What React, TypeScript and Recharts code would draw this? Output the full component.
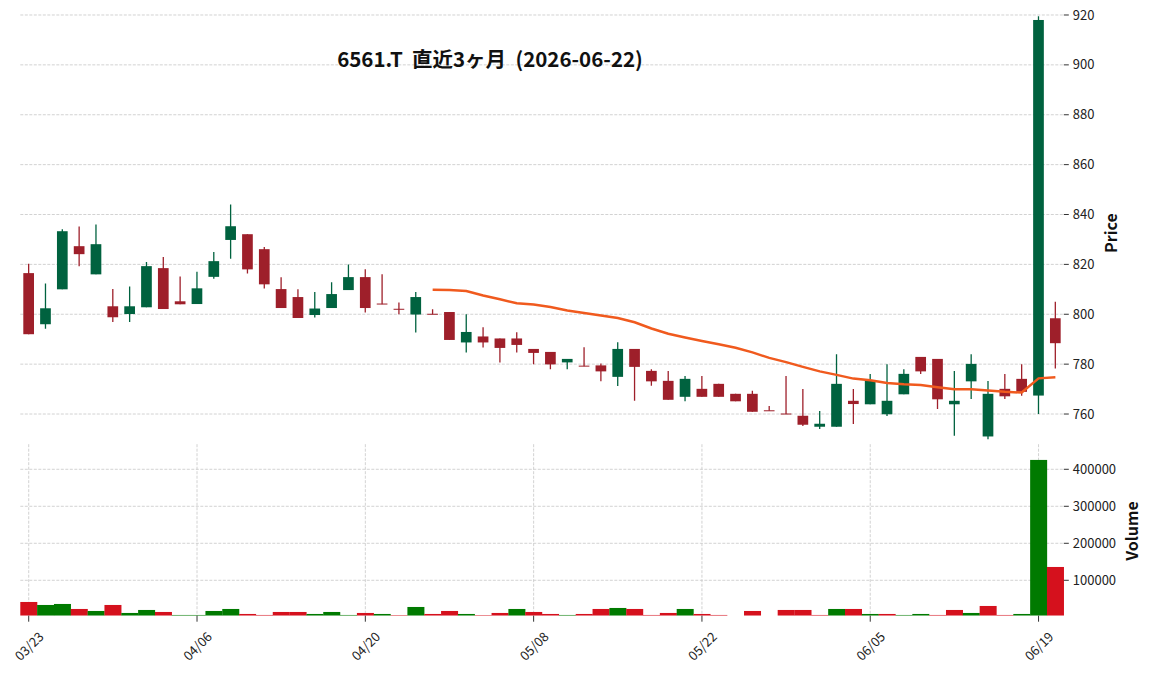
import { ComposedChart, Bar, Line, XAxis, YAxis, CartesianGrid } from 'recharts';

const DATES = [
  '03/23', '03/24', '03/25', '03/26', '03/27', '03/30', '03/31', '04/01', '04/02', '04/03',
  '04/06', '04/07', '04/08', '04/09', '04/10', '04/13', '04/14', '04/15', '04/16', '04/17',
  '04/20', '04/21', '04/22', '04/23', '04/24', '04/27', '04/28', '04/30', '05/01', '05/07',
  '05/08', '05/11', '05/12', '05/13', '05/14', '05/15', '05/18', '05/19', '05/20', '05/21',
  '05/22', '05/25', '05/26', '05/27', '05/28', '05/29', '06/01', '06/02', '06/03', '06/04',
  '06/05', '06/08', '06/09', '06/10', '06/11', '06/12', '06/15', '06/16', '06/17', '06/18',
  '06/19', '06/22',
];

const OPEN = [
  816.5, 796, 810, 827.3, 816, 803.2, 800.1, 802.8, 818.5, 805.2,
  804.1, 815, 829.8, 832.1, 826.1, 810.1, 806.9, 799.7, 802.5, 809.7,
  814.9, 804.3, 802.2, 799.9, 800.2, 800.9, 788.7, 791.1, 790.3, 790.3,
  786.1, 784.9, 780.7, 779.4, 779.5, 774.9, 786.1, 777.3, 773.3, 766.9,
  770.1, 772.1, 768.1, 768.1, 761.5, 760.2, 759.3, 754.9, 754.9, 765.3,
  763.9, 759.9, 767.9, 782.9, 782.1, 763.9, 773.1, 751, 770.1, 774.1,
  767.4, 798.4,
];
const HIGH = [
  820.3, 812.3, 834.1, 835.2, 836, 810.1, 811.1, 821, 823, 815.1,
  817, 825, 844, 832.1, 827, 814.8, 810, 808.9, 812.8, 820,
  818, 816, 804.7, 808.9, 802, 800.9, 800, 794.8, 790.3, 792.8,
  786.1, 784.9, 782.1, 786.8, 780.3, 788.8, 786.1, 778, 777.2, 775.2,
  775.2, 772.1, 768.1, 769.3, 763.2, 775.2, 770, 761.2, 784, 770,
  776, 780, 778, 782.9, 782.1, 777.2, 784, 773.2, 776, 780,
  919.5, 805,
];
const LOW = [
  792, 794.2, 810, 819.3, 816, 796.9, 796.9, 802.8, 802.1, 804,
  804.1, 814.2, 822.3, 816.3, 810.3, 802.5, 798.5, 798.7, 802.5, 809.7,
  800.7, 804, 800, 792.7, 800, 789.7, 784.7, 786.7, 780.7, 784.7,
  780, 778, 778, 779.2, 773.1, 771.2, 765.3, 771.3, 765.7, 765.1,
  766.9, 766.9, 765.1, 760.9, 761.3, 760, 755.2, 754, 754.9, 756,
  763.9, 759.2, 767.9, 776, 762, 751.3, 766, 749.9, 766, 767.3,
  760, 778.3,
];
const CLOSE = [
  792, 802.4, 833.3, 824.1, 828.1, 798.8, 803.2, 819.3, 802.1, 804,
  810.4, 821.3, 835.3, 818, 812, 802.5, 798.5, 802.3, 808.1, 814.9,
  802.5, 804, 802, 806.9, 800, 789.7, 792.9, 788.7, 786.5, 787.7,
  784.5, 779.9, 782.1, 779.2, 777.1, 786.1, 778.9, 773.1, 765.7, 774.1,
  766.9, 766.9, 765.1, 760.9, 761.3, 760, 755.7, 756.1, 772.1, 764,
  773.3, 765.3, 776.1, 777.1, 765.9, 765.3, 780.1, 768.1, 767.1, 768.9,
  918, 788.4,
];
const MA25 = [
  null, null, null, null, null, null, null, null, null, null,
  null, null, null, null, null, null, null, null, null, null,
  null, null, null, null, 809.8, 809.7, 809.3, 807.5, 806.0, 804.4,
  803.9, 802.9, 801.5, 800.5, 799.5, 798.5, 796.8, 794.3, 792.2, 790.7,
  789.3, 788.0, 786.6, 784.7, 782.5, 780.8, 778.9, 777.1, 775.7, 774.2,
  773.5, 772.4, 771.9, 771.6, 770.7, 769.9, 769.9, 769.4, 768.9, 768.6,
  774.3, 774.7,
];
const VOLUME = [
  41400, 33300, 36000, 22500, 17100, 33300, 11700, 19800, 14400, 6300,
  6300, 17100, 22500, 9000, 6300, 14400, 14400, 9000, 14400, 6300,
  11700, 9000, 6000, 27900, 9000, 17100, 9000, 6000, 11700, 22500,
  14400, 9000, 6300, 9000, 22500, 25200, 22500, 6300, 11700, 22500,
  9000, 6300, 3000, 17100, 3000, 19800, 19800, 6300, 22500, 22500,
  9000, 9000, 6300, 9000, 6300, 19800, 11700, 30600, 6300, 9000,
  425300, 136000,
];
// 1 = 上昇 (green), 0 = 下落 (red)
const VOL_UP = [
  0, 1, 1, 0, 1, 0, 1, 1, 0, 1,
  1, 1, 1, 0, 0, 0, 0, 1, 1, 1,
  0, 1, 0, 1, 0, 0, 1, 0, 0, 1,
  0, 0, 1, 0, 0, 1, 0, 0, 0, 1,
  0, 0, 0, 0, 0, 0, 0, 0, 1, 0,
  1, 0, 1, 1, 0, 0, 1, 0, 0, 1,
  1, 0,
];

const PRICE_TICKS = [760, 780, 800, 820, 840, 860, 880, 900, 920];
const VOLUME_TICKS = [100000, 200000, 300000, 400000];
const DATE_TICKS = ['03/23', '04/06', '04/20', '05/08', '05/22', '06/05', '06/19'];

const data = DATES.map((date, i) => ({
  date,
  open: OPEN[i],
  high: HIGH[i],
  low: LOW[i],
  close: CLOSE[i],
  volume: VOLUME[i],
  volUp: VOL_UP[i] === 1,
  ma: MA25[i],
}));

const FONT = '"Noto Sans CJK JP", "Noto Sans", sans-serif';
const CANDLE_UP = '#00623f';
const CANDLE_DOWN = '#9e1f2a';
const VOL_UP_COLOR = '#007a00';
const VOL_DOWN_COLOR = '#d5111d';
const GRID = '#c6c6c6';

const MARGIN_LEFT = 20.3;
const AXIS_W = 60;
const MARGIN_RIGHT = 1152 - 1063.8 - AXIS_W;

function Candle(props: any) {
  const { x, y, width, height, payload } = props;
  const { open, close, high, low } = payload;
  const color = close >= open ? CANDLE_UP : CANDLE_DOWN;
  const top = Math.min(y, y + height);
  const h = Math.abs(height);
  const span = high - low;
  const toY = (v: number) => (span > 0 ? top + ((high - v) / span) * h : top);
  const cx = x + width / 2;
  const bTop = toY(Math.max(open, close));
  const bBot = toY(Math.min(open, close));
  return (
    <g>
      <line x1={cx} x2={cx} y1={top} y2={top + h} stroke={color} strokeWidth={1.3} />
      <rect x={x} y={bTop} width={width} height={Math.max(bBot - bTop, 1)} fill={color} />
    </g>
  );
}

function VolumeBar(props: any) {
  const { x, y, width, height, payload } = props;
  if (!(height > 0)) return null;
  return <rect x={x} y={y} width={width} height={height} fill={payload.volUp ? VOL_UP_COLOR : VOL_DOWN_COLOR} />;
}

function DateTick(props: any) {
  const { x, y, payload } = props;
  const cy = y + 22;
  return (
    <text
      x={x}
      y={cy}
      transform={`rotate(-45 ${x} ${cy})`}
      textAnchor="middle"
      dominantBaseline="central"
      fontSize={13}
      fill="#222"
      fontFamily={FONT}
    >
      {payload.value}
    </text>
  );
}

export default function App() {
  return (
    <div style={{ position: 'absolute', left: 0, top: 0, width: 1152, height: 673, background: '#fff', fontFamily: FONT }}>
      <div style={{ position: 'absolute', left: 0, top: 0 }}>
        <ComposedChart
          width={1152}
          height={444}
          data={data}
          margin={{ top: 12.5, right: MARGIN_RIGHT, bottom: 0.3, left: MARGIN_LEFT }}
        >
          <CartesianGrid stroke={GRID} strokeDasharray="3 1.5" strokeWidth={0.8} syncWithTicks />
          <XAxis
            dataKey="date"
            ticks={DATE_TICKS}
            interval={0}
            height={1}
            tick={false}
            tickLine={false}
            axisLine={false}
          />
          <YAxis
            orientation="right"
            type="number"
            domain={[748.5, 921]}
            allowDataOverflow
            ticks={PRICE_TICKS}
            width={AXIS_W}
            axisLine={false}
            tickSize={5}
            tickMargin={4}
            tickLine={{ stroke: '#333', strokeWidth: 1 }}
            tick={{ fontSize: 13, fill: '#222', fontFamily: FONT }}
          />
          <Bar
            dataKey={(d: any) => [d.low, d.high]}
            barSize={10.7}
            shape={<Candle />}
            isAnimationActive={false}
          />
          <Line
            type="linear"
            dataKey="ma"
            stroke="#f05a1e"
            strokeWidth={2.5}
            dot={false}
            activeDot={false}
            isAnimationActive={false}
          />
        </ComposedChart>
      </div>
      <div style={{ position: 'absolute', left: 0, top: 443 }}>
        <ComposedChart
          width={1152}
          height={230}
          data={data}
          barCategoryGap={0}
          barGap={0}
          margin={{ top: 1.2, right: MARGIN_RIGHT, bottom: 7.3, left: MARGIN_LEFT }}
        >
          <CartesianGrid stroke={GRID} strokeDasharray="3 1.5" strokeWidth={0.8} syncWithTicks />
          <XAxis
            dataKey="date"
            ticks={DATE_TICKS}
            interval={0}
            height={50}
            axisLine={false}
            tickSize={6}
            tickMargin={2}
            tickLine={{ stroke: '#333', strokeWidth: 1 }}
            tick={<DateTick />}
          />
          <YAxis
            orientation="right"
            type="number"
            domain={[4300, 467800]}
            allowDataOverflow
            ticks={VOLUME_TICKS}
            width={AXIS_W}
            axisLine={false}
            tickSize={5}
            tickMargin={4}
            tickLine={{ stroke: '#333', strokeWidth: 1 }}
            tick={{ fontSize: 13, fill: '#222', fontFamily: FONT }}
          />
          <Bar dataKey="volume" shape={<VolumeBar />} isAnimationActive={false} />
        </ComposedChart>
      </div>
      <svg
        width={1152}
        height={673}
        style={{ position: 'absolute', left: 0, top: 0, pointerEvents: 'none' }}
      >
        <text
          x={490}
          y={67}
          textAnchor="middle"
          fontSize={20.5}
          fontWeight="bold"
          fill="#111"
          fontFamily={FONT}
          style={{ whiteSpace: 'pre' }}
        >
          {'6561.T  直近3ヶ月  (2026-06-22)'}
        </text>
        <text
          x={1117}
          y={233}
          transform="rotate(-90 1117 233)"
          textAnchor="middle"
          fontSize={16}
          fontWeight="bold"
          fill="#111"
          fontFamily={FONT}
        >
          Price
        </text>
        <text
          x={1138}
          y={531}
          transform="rotate(-90 1138 531)"
          textAnchor="middle"
          fontSize={16}
          fontWeight="bold"
          fill="#111"
          fontFamily={FONT}
        >
          Volume
        </text>
      </svg>
    </div>
  );
}
